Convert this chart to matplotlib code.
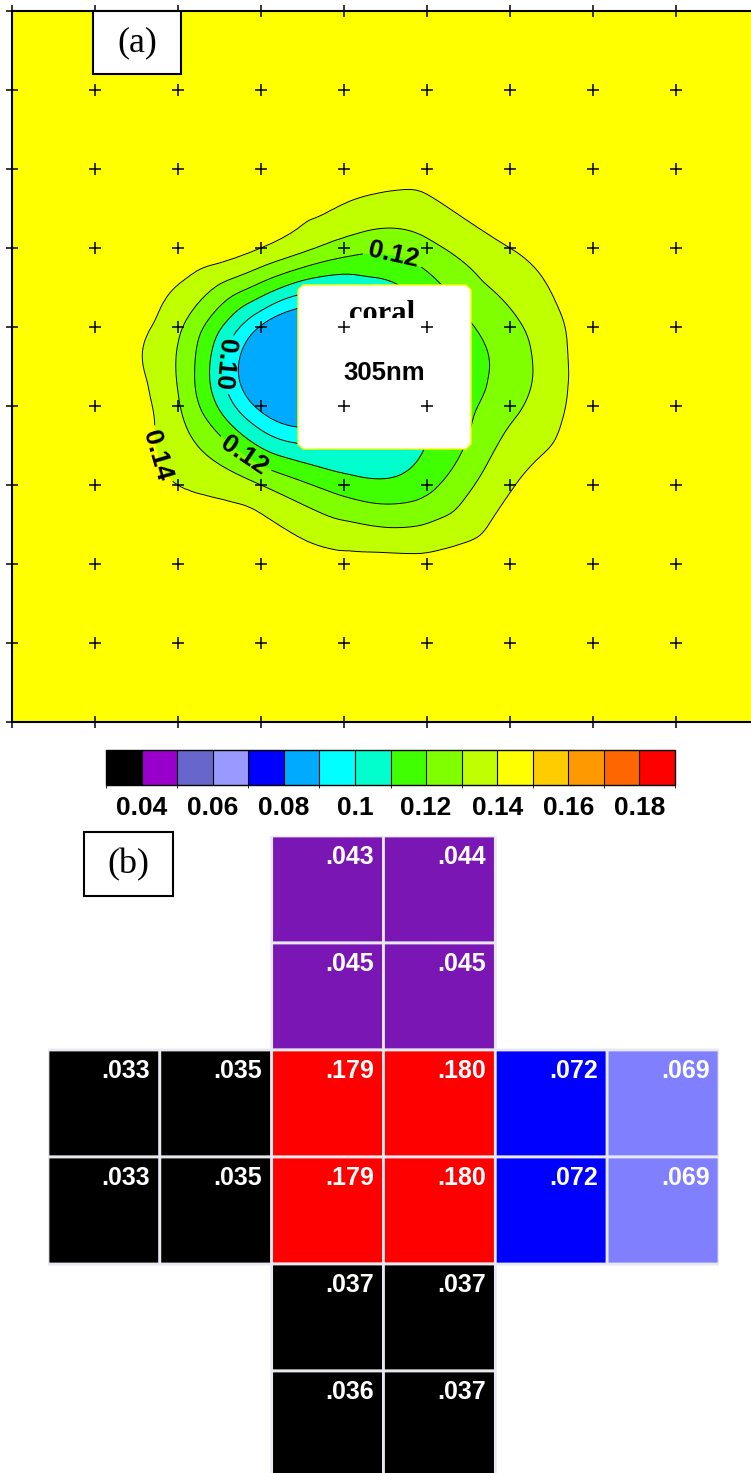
import numpy as np
import matplotlib
matplotlib.use("Agg")
import matplotlib.pyplot as plt
import matplotlib.tri as mtri
from matplotlib.colors import ListedColormap, BoundaryNorm
from matplotlib.cm import ScalarMappable
from matplotlib.patches import Rectangle, Polygon

plt.rcParams['font.family'] = ['Liberation Sans', 'DejaVu Sans']

W, H = 751, 1473

# colour scale, one box per 0.01
levels = [0.03, 0.04, 0.05, 0.06, 0.07, 0.08, 0.09, 0.10, 0.11,
          0.12, 0.13, 0.14, 0.15, 0.16, 0.17, 0.18, 0.19]
scale_colors = ['#000000', '#9900cc', '#6666cc', '#9999ff', '#0000ff',
                '#00aaff', '#00ffff', '#00ffcc', '#3fff00', '#80ff00',
                '#bfff00', '#ffff00', '#ffcc00', '#ff9900', '#ff6600',
                '#ff0000']
tick_values = [0.04, 0.06, 0.08, 0.10, 0.12, 0.14, 0.16, 0.18]
tick_labels = ['0.04', '0.06', '0.08', '0.1', '0.12', '0.14', '0.16', '0.18']

# panel (a): values read at the grid crosses, rows listed from top to bottom
grid_x = [0, 1, 2, 3, 4, 5, 6, 7, 8, 9]
grid_y = [9, 8, 7, 6, 5, 4, 3, 2, 1, 0]
field = [
    [.145, .145, .145, .145, .145, .145, .145, .145, .145, .145],
    [.145, .145, .145, .145, .145, .145, .145, .145, .145, .145],
    [.145, .145, .145, .145, .143, .143, .145, .145, .145, .145],
    [.145, .145, .145, .140, .125, .127, .140, .145, .145, .145],
    [.145, .145, .132, .089, .082, .108, .127, .145, .145, .145],
    [.145, .145, .131, .087, .085, .108, .127, .145, .145, .145],
    [.145, .145, .140, .130, .115, .117, .139, .145, .145, .145],
    [.145, .145, .145, .144, .143, .143, .145, .145, .145, .145],
    [.145, .145, .145, .145, .145, .145, .145, .145, .145, .145],
    [.145, .145, .145, .145, .145, .145, .145, .145, .145, .145],
]
label_levels = [0.10, 0.12, 0.14]
plain_levels = [0.09, 0.11, 0.13]

# panel (b): cell values, nan = no cell
cell_values = [
    [np.nan, np.nan, .043, .044, np.nan, np.nan],
    [np.nan, np.nan, .045, .045, np.nan, np.nan],
    [.033, .035, .179, .180, .072, .069],
    [.033, .035, .179, .180, .072, .069],
    [np.nan, np.nan, .037, .037, np.nan, np.nan],
    [np.nan, np.nan, .036, .037, np.nan, np.nan],
]
cell_bounds = [0.03, 0.04, 0.06, 0.07, 0.08, 0.17, 0.19]
cell_colors = ['#000000', '#7a16b4', '#8080ff', '#0000ff', '#ffff00',
               '#ff0000']


def fig_box(x0, y0, x1, y1):
    return [x0 / W, 1 - y1 / H, (x1 - x0) / W, (y1 - y0) / H]


def a_data(px, py):
    # pixel position in the reference -> data units of panel (a)
    return (px - 12) / 83.0, 9 - (py - 11) / 79.0


cmap = ListedColormap(scale_colors)
norm = BoundaryNorm(levels, cmap.N)

fig = plt.figure(figsize=(W / 100, H / 100), dpi=100)

# ---- panel (a)
ax = fig.add_axes(fig_box(12, 11, 759, 722))
X, Y = np.meshgrid(grid_x, grid_y)
Z = np.array(field)
tri = mtri.Triangulation(X.ravel().astype(float), Y.ravel().astype(float))
interp = mtri.CubicTriInterpolator(tri, Z.ravel(), kind='min_E')
refiner = mtri.UniformTriRefiner(tri)
tri_r, z_r = refiner.refine_field(Z.ravel(), interp, subdiv=4)
z_r = np.clip(z_r, 0.0801, 0.1499)

ax.tricontourf(tri_r, z_r, levels=levels, cmap=cmap, norm=norm)
ax.tricontour(tri_r, z_r, levels=plain_levels, colors='k', linewidths=0.7)
cs = ax.tricontour(tri_r, z_r, levels=label_levels, colors='k',
                   linewidths=0.7)
spots = [a_data(390, 272), a_data(232, 365), a_data(243, 458), a_data(160, 455)]
texts = ax.clabel(cs, manual=spots, fmt='%.2f', fontsize=19, inline=True)
for t in texts:
    t.set_fontweight('bold')
    if t.get_text() == '0.10':
        # original reads this one top to bottom
        t.set_rotation(t.get_rotation() + 180)

# white box in the middle
c = 5
bx0, by0, bx1, by1 = 298, 285, 471, 449
corners = [(bx0 + c, by0), (bx1 - c, by0), (bx1, by0 + c), (bx1, by1 - c),
           (bx1 - c, by1), (bx0 + c, by1), (bx0, by1 - c), (bx0, by0 + c)]
ax.add_patch(Polygon([a_data(*p) for p in corners], closed=True,
                     fc='white', ec='yellow', lw=1, zorder=4))
ax.text(*a_data(382, 322), 'coral', ha='center', va='baseline',
        fontsize=22, fontweight='bold', family='Liberation Serif', zorder=5)
# lower part of "coral" is hidden in the original
ax.add_patch(Rectangle(a_data(330, 338), 110 / 83.0, 20 / 79.0,
                       fc='white', ec='none', zorder=5.5))
ax.text(*a_data(384, 373), '305nm', ha='center', va='center', fontsize=18.5,
        fontweight='bold', zorder=5)

ax.plot(X.ravel(), Y.ravel(), '+', color='k', ms=9, mew=1.1, zorder=6,
        clip_on=False)

ax.set_xlim(0, 9)
ax.set_ylim(0, 9)
ax.set_xticks([])
ax.set_yticks([])
for s in ax.spines.values():
    s.set_linewidth(1.5)

fig.add_artist(Rectangle((93 / W, 1 - 74 / H), 88 / W, 63 / H,
                         transform=fig.transFigure, fc='white', ec='k', lw=1.5))
fig.text(137 / W, 1 - 43 / H, '(a)', ha='center', va='center', fontsize=26,
         family='Liberation Serif')

# ---- colour bar
cax = fig.add_axes(fig_box(106, 750, 675, 785))
cb = fig.colorbar(ScalarMappable(norm=norm, cmap=cmap), cax=cax,
                  orientation='horizontal', ticks=tick_values, drawedges=True)
cb.set_ticklabels(tick_labels)
cb.outline.set_linewidth(1)
cb.dividers.set_linewidth(0.8)
cax.tick_params(length=0, pad=8, labelsize=19)
for t in cax.get_xticklabels():
    t.set_fontweight('bold')

# ---- panel (b)
axb = fig.add_axes(fig_box(48, 836, 719, 1478))
vals = np.ma.masked_invalid(np.array(cell_values))
cell_cmap = ListedColormap(cell_colors)
axb.pcolor(np.arange(7), np.arange(7), vals, cmap=cell_cmap,
           norm=BoundaryNorm(cell_bounds, cell_cmap.N),
           edgecolors='#e8e8f0', linewidth=2)
for r, row in enumerate(cell_values):
    for k, v in enumerate(row):
        if np.isnan(v):
            continue
        axb.text(k + 1 - 0.085, r + 0.085, f"{v:.3f}"[1:], ha='right',
                 va='top', color='white', fontsize=18, fontweight='bold')
axb.set_xlim(0, 6)
axb.set_ylim(6, 0)
axb.axis('off')

fig.add_artist(Rectangle((84 / W, 1 - 896 / H), 89 / W, 64 / H,
                         transform=fig.transFigure, fc='white', ec='k', lw=1.5))
fig.text(128 / W, 1 - 865 / H, '(b)', ha='center', va='center', fontsize=26,
         family='Liberation Serif')

fig.savefig('out.png', dpi=100)
